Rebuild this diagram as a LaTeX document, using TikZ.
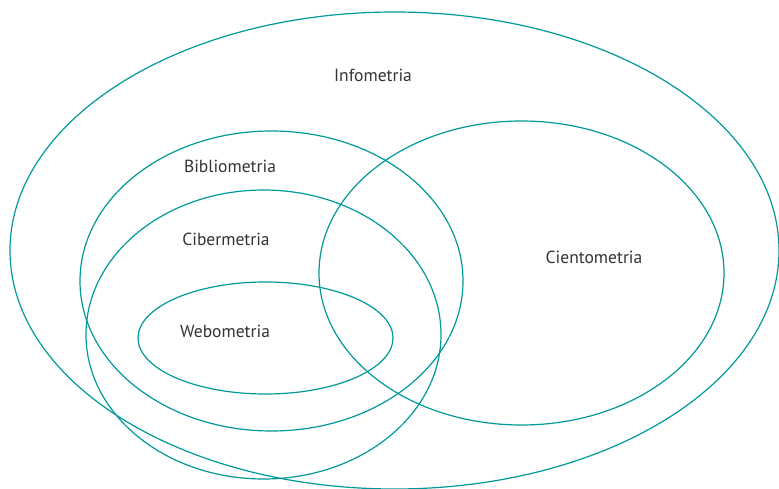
\documentclass[tikz,border=0pt]{standalone}
\usepackage{fontspec}
\setmainfont{PT Sans}
\definecolor{teal}{RGB}{0,152,153}

\begin{document}
\begin{tikzpicture}[x=1pt,y=-1pt,
    set/.style={draw=teal,line width=1.2pt},
    lbl/.style={font=\fontsize{17.5}{20}\selectfont,text=black!80}]
        \useasboundingbox (0,0) rectangle (779,489);
        \begin{scope}
        \clip (0,0) rectangle (779,489);
        \draw[set] (394.5,250.5) ellipse[x radius=384.5, y radius=238.5];
        \end{scope}
        \draw[set] (271.5,281) ellipse[x radius=191.5, y radius=150];
        \draw[set] (263.5,334.5) ellipse[x radius=177.5, y radius=144.5];
        \draw[set] (265.5,338) ellipse[x radius=127.5, y radius=56];
        \draw[set] (521.5,273) ellipse[x radius=202.5, y radius=152];

        \node[lbl] (info) at (373,75) {Infometria};
        \node[lbl] (biblio) at (230,166) {Bibliometria};
        \node[lbl] (ciber) at (226,239) {Cibermetria};
        \node[lbl] (webo) at (225,331) {Webometria};
        \node[lbl] (ciento) at (594,257) {Cientometria};
    \end{tikzpicture}
\end{document}
